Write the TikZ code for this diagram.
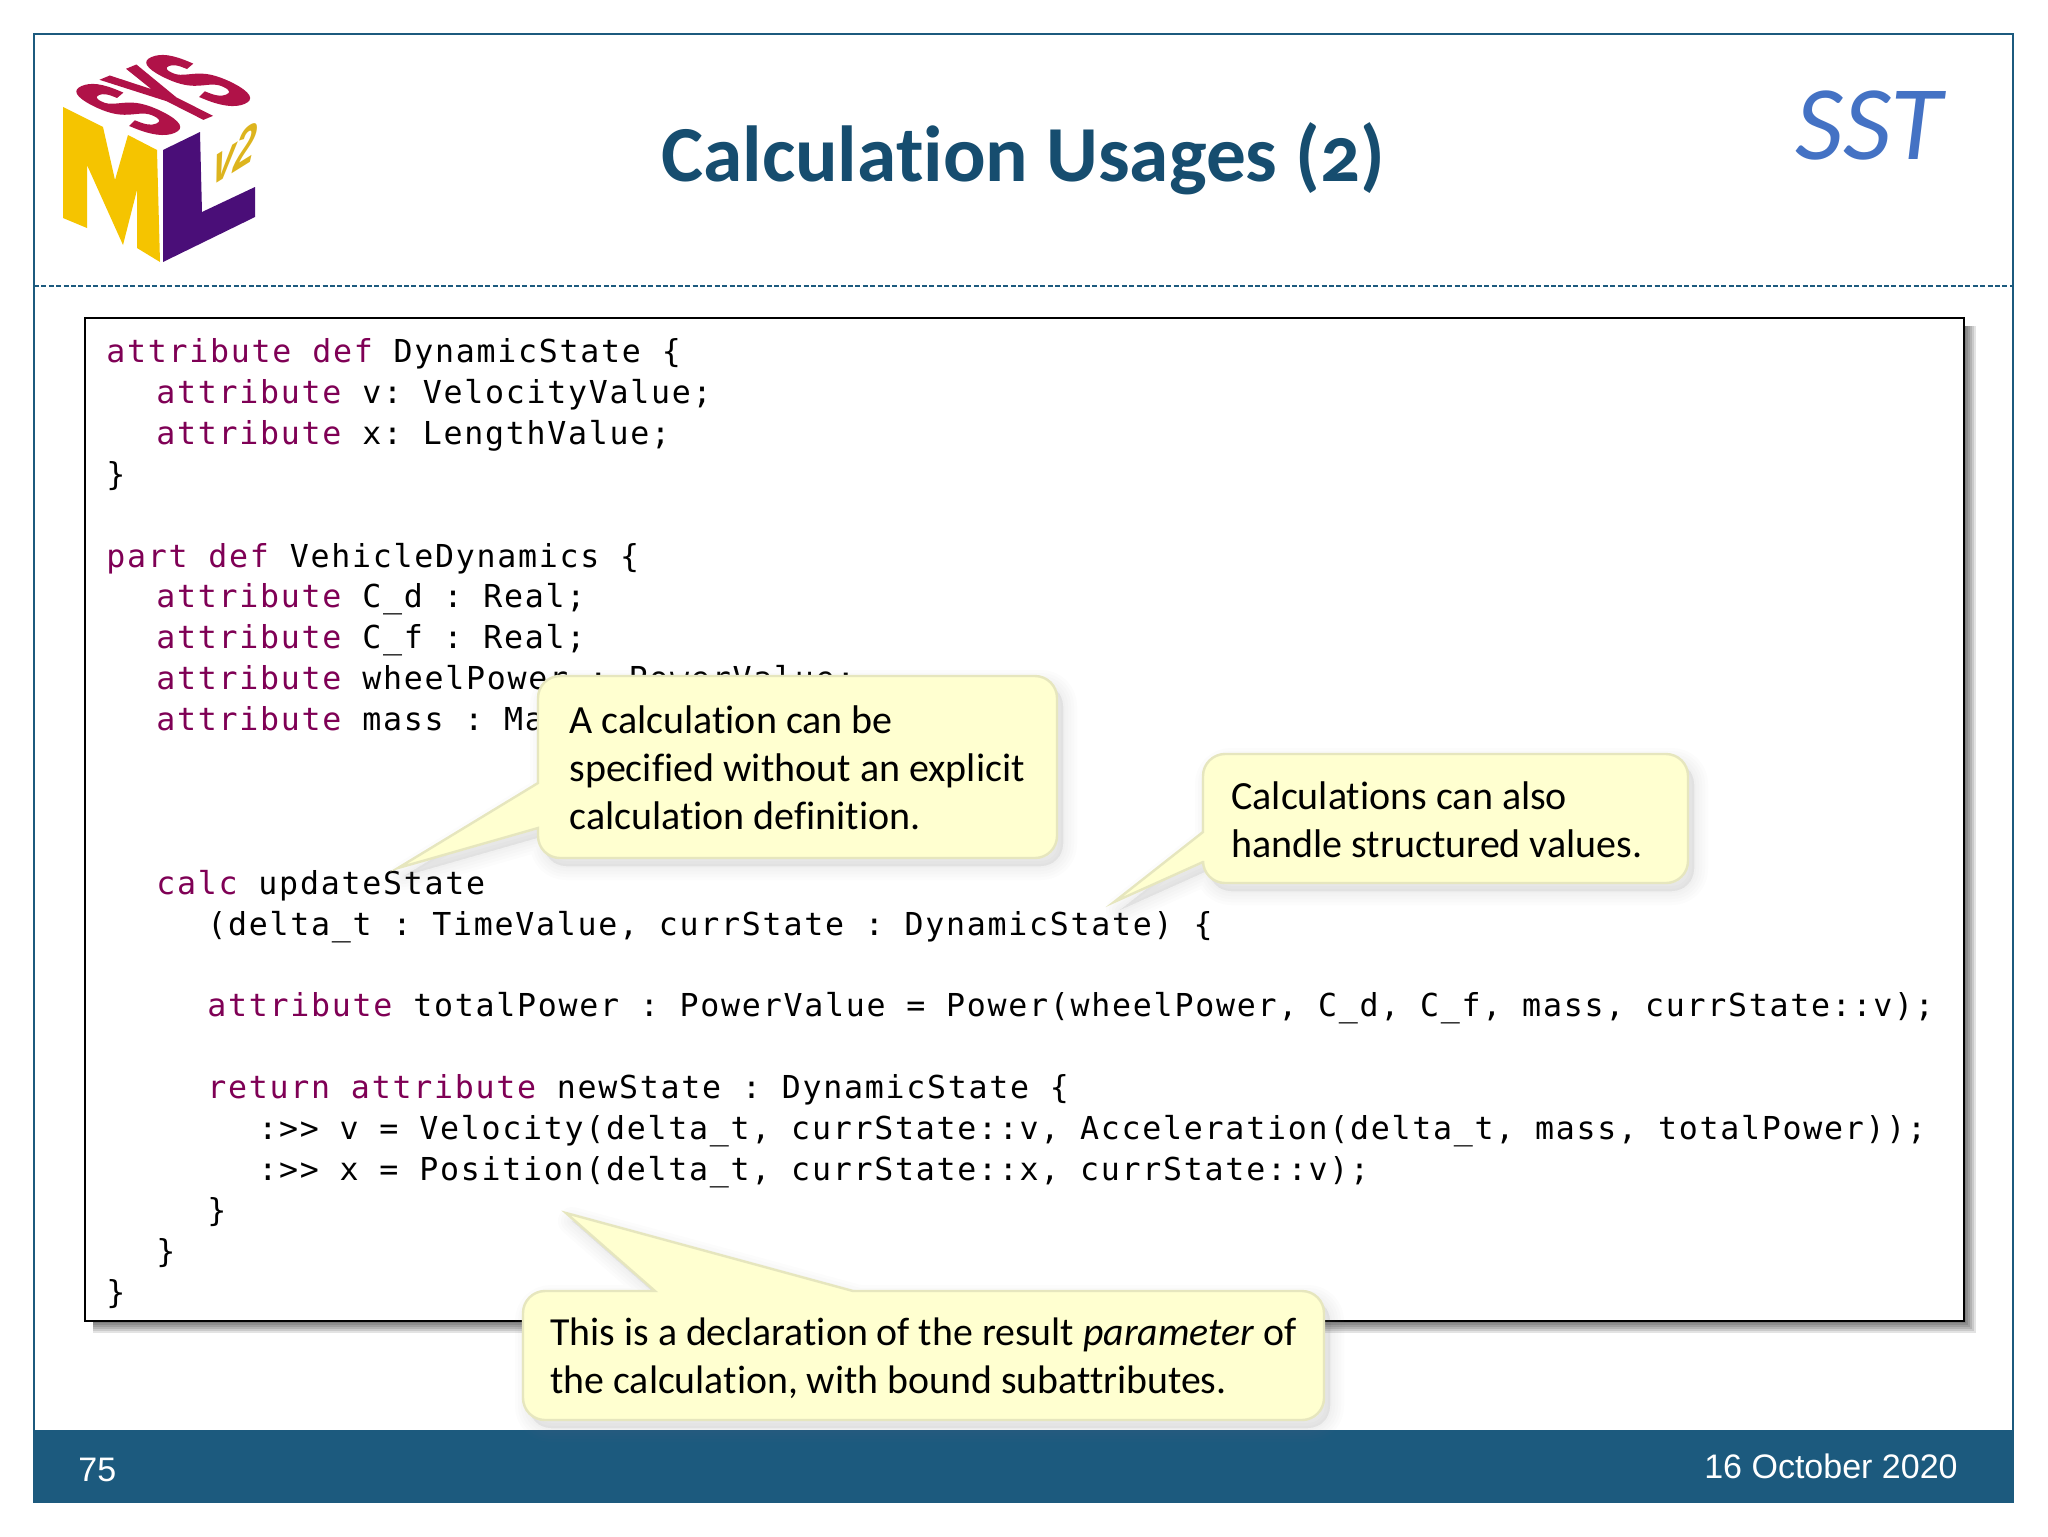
\documentclass[tikz,border=0pt]{standalone}
\usepackage{fontspec}
\setmainfont[Ligatures=NoCommon]{Carlito}
\newfontfamily\codefont[LetterSpace=5.5]{DejaVu Sans Mono}
\newfontfamily\titlefont[Numbers=OldStyle,Ligatures=NoCommon]{Carlito}
\newfontfamily\footfont{Liberation Sans}
\newfontfamily\logofont[FakeBold=4]{Liberation Sans Bold}
\usetikzlibrary{calc}
\definecolor{bandc}{HTML}{1C5A7E}
\definecolor{titlec}{HTML}{164D6F}
\definecolor{kwc}{HTML}{7F0055}
\definecolor{sstc}{HTML}{4472C4}
\definecolor{callfill}{HTML}{FFFFD0}
\definecolor{callline}{HTML}{E6E6BE}
\definecolor{logoy}{HTML}{F5C400}
\definecolor{logop}{HTML}{4A0E78}
\definecolor{logor}{HTML}{B01248}
\definecolor{logog}{HTML}{DDB41E}
\tikzset{
  codetext/.style={anchor=base west,inner sep=0pt,font=\codefont\fontsize{15.8}{20}\selectfont\frenchspacing,text=black},
  calltext/.style={anchor=base west,inner sep=0pt,font=\fontsize{20}{24}\selectfont\frenchspacing,text=black},
  foottext/.style={inner sep=0pt,font=\footfont\fontsize{17}{20}\selectfont,text=white},
  callbody/.style={fill=callfill,draw=callline,line width=1.2pt},
  callshadow/.style={draw=gray,fill=gray,opacity=0.022,line join=round},
}
\newcommand{\kw}[1]{\textcolor{kwc}{#1}}
\newcommand{\codeline}[4]{\node[codetext] (#1) at (#2,{362.5+40.9*#3}) {#4};}
\newcommand{\callout}[1]{%
  \foreach \w in {14,11,8,5,2}{\path[callshadow,line width=\w pt,shift={(6,8)}] #1;}
  \path[callbody] #1;}
\begin{document}
\begin{tikzpicture}[x=0.5pt,y=-0.5pt]
\useasboundingbox (0,0) rectangle (2048,1536);
\fill[white] (0,0) rectangle (2048,1536);
% frame, band, separator
\draw[bandc,line width=1pt] (34,34) rectangle (2013,1502);
\fill[bandc] (34,1430) rectangle (2014,1502);
\draw[bandc,line width=1pt,dash pattern=on 2.5pt off 1.2pt] (34,286) -- (2013,286);
% logo
\fill[logoy] (63,107) -- (103,127) -- (115,180) -- (128,135) -- (157,150) -- (160,262) -- (137,248) -- (137,190) -- (123,245) -- (87,165) -- (87,228) -- (63,218) -- cycle;
\fill[logop] (163,150) -- (200,132) -- (202,212) -- (255,187) -- (255,217) -- (163,262) -- cycle;
\begin{scope}[shift={(163,95)},cm={1.31,0.543,-3.1,1.57,(0,0)}]
  \node[transform shape,inner sep=0pt,text=logor,font=\logofont\fontsize{20}{20}\selectfont] (sys) at (0,0) {SYS};
\end{scope}
\begin{scope}[shift={(235,153)},cm={0.8,0.5,0.15,1.2,(0,0)}]
  \node[transform shape,inner sep=0pt,text=logog,font=\footfont\bfseries\itshape\fontsize{24}{24}\selectfont] (v2) at (0,0) {v2};
\end{scope}
% title
\node[anchor=base west,inner sep=0pt,text=titlec,font=\titlefont\bfseries\fontsize{39.7}{44}\selectfont] (title) at (661,181) {Calculation Usages (2)};
\node[anchor=base west,inner sep=0pt,text=sstc,font=\itshape\fontsize{53}{54}\selectfont] (sst) at (1795,159) {SST};
% code box
\foreach \k in {12,10,8,6,4,2}{\fill[black,opacity=0.11] (93,326) rectangle (1964+\k,1321+\k);}
\draw[black,line width=1.25pt,fill=white] (85,318) rectangle (1964,1321);
\codeline{c0}{106}{0}{\kw{attribute def} DynamicState \{}
\codeline{c1}{156}{1}{\kw{attribute} v: VelocityValue;}
\codeline{c2}{156}{2}{\kw{attribute} x: LengthValue;}
\codeline{c3}{106}{3}{\}}
\codeline{c5}{106}{5}{\kw{part def} VehicleDynamics \{}
\codeline{c6}{156}{6}{\kw{attribute} C\_d : Real;}
\codeline{c7}{156}{7}{\kw{attribute} C\_f : Real;}
\codeline{c8}{156}{8}{\kw{attribute} wheelPower : PowerValue;}
\codeline{c9}{156}{9}{\kw{attribute} mass : MassValue;}
\codeline{c13}{156}{13}{\kw{calc} updateState}
\codeline{c14}{207}{14}{(delta\_t : TimeValue, currState : DynamicState) \{}
\codeline{c16}{207}{16}{\kw{attribute} totalPower : PowerValue = Power(wheelPower, C\_d, C\_f, mass, currState::v);}
\codeline{c18}{207}{18}{\kw{return attribute} newState : DynamicState \{}
\codeline{c19}{258}{19}{:>> v = Velocity(delta\_t, currState::v, Acceleration(delta\_t, mass, totalPower));}
\codeline{c20}{258}{20}{:>> x = Position(delta\_t, currState::x, currState::v);}
\codeline{c21}{207}{21}{\}}
\codeline{c22}{156}{22}{\}}
\codeline{c23}{106}{23}{\}}
% callouts
\callout{(538,783) [rounded corners=11pt] -- (538,676) -- (1057,676) -- (1057,858) -- (538,858) [sharp corners] -- (538,828) -- (398,868) -- cycle}
\node[calltext] (t1a) at (569,733) {A calculation can be};
\node[calltext] (t1b) at (569,781) {specified without an explicit};
\node[calltext] (t1c) at (569,829) {calculation definition.};
\callout{(1203,832) [rounded corners=11pt] -- (1203,754) -- (1688,754) -- (1688,883) -- (1203,883) [sharp corners] -- (1203,862) -- (1114,902) -- cycle}
\node[calltext] (t2a) at (1231,809) {Calculations can also};
\node[calltext] (t2b) at (1231,857) {handle structured values.};
\callout{(655,1291) -- (566,1213) -- (853,1291) [rounded corners=11pt] -- (1324,1291) -- (1324,1420) -- (523,1420) -- (523,1291) [sharp corners] -- cycle}
\node[calltext,font=\fontsize{19.9}{24}\selectfont\frenchspacing] (t3a) at (550,1345) {This is a declaration of the result \textit{parameter} of};
\node[calltext,font=\fontsize{19.9}{24}\selectfont\frenchspacing] (t3b) at (550,1393) {the calculation, with bound subattributes.};
% footer
\node[foottext,anchor=base west] (num) at (78,1481) {75};
\node[foottext,anchor=base east] (date) at (1958,1478) {16 October 2020};
\end{tikzpicture}
\end{document}
